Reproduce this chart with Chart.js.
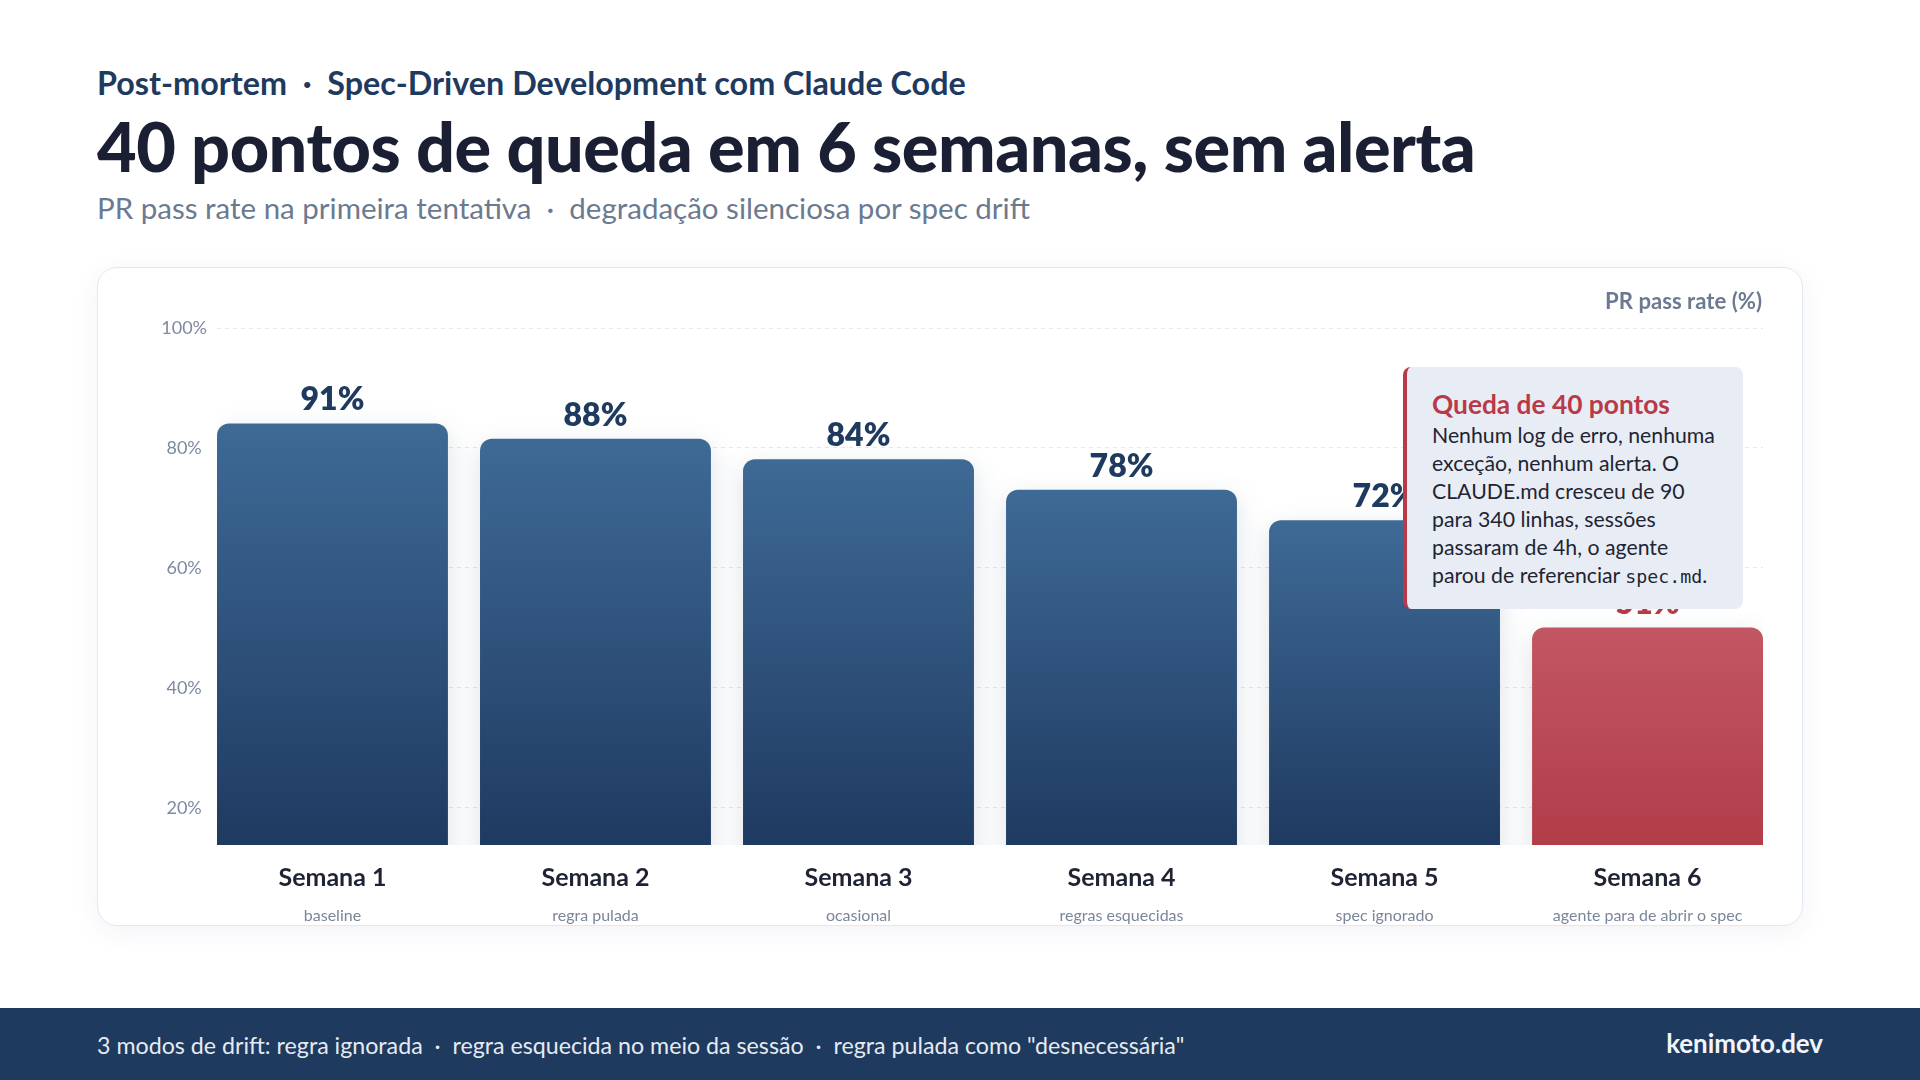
<!DOCTYPE html>
<html lang="pt-BR">
<head>
<meta charset="utf-8">
<title>Post-mortem · Spec-Driven Development com Claude Code</title>
<script src="https://cdn.jsdelivr.net/npm/chart.js@4.4.1/dist/chart.umd.min.js"></script>
<style>
  html, body { margin: 0; padding: 0; }
  body { width: 1920px; height: 1080px; position: relative; overflow: hidden; background: #ffffff; font-family: Lato, "Noto Sans", sans-serif; }
  .t { position: absolute; white-space: nowrap; line-height: 1; }
  #kicker { color: #1e3a5f; font-weight: 700; }
  #title { color: #1b1f33; font-weight: 900; letter-spacing: -0.5px; }
  #sub { color: #6b7a90; font-weight: 400; }
  #card { position: absolute; left: 97px; top: 267px; width: 1704px; height: 657px; border: 1px solid #e3e7ee; border-radius: 20px; background: #fff; box-shadow: 0 6px 28px rgba(30,58,95,0.06); }
  #chartWrap { position: absolute; left: 97px; top: 267px; width: 1706px; height: 659px; z-index: 2; }
  #axisTitle { color: #6b7a90; font-weight: 700; z-index: 3; }
  #note { position: absolute; left: 1403px; top: 367px; width: 336px; height: 242px; background: #e8edf5; border-left: 4px solid #b83a48; border-radius: 8px; z-index: 4; }
  #noteTitle { color: #b83a48; font-weight: 700; z-index: 5; }
  #noteBody { color: #1f2433; font-weight: 400; z-index: 5; line-height: 27.9px; }
  #noteBody code { font-family: "DejaVu Sans Mono", monospace; font-size: 0.86em; }
  #footer { position: absolute; left: 0; top: 1008px; width: 1920px; height: 72px; background: #1e3a5f; }
  #footL { color: #e6eaf0; font-weight: 400; z-index: 6; }
  #footR { color: #f3f5f9; font-weight: 700; z-index: 6; }
</style>
</head>
<body>
<div id="kicker" class="t" data-fs="32">Post-mortem&nbsp; ·&nbsp; Spec-Driven Development com Claude Code</div>
<div id="title" class="t" data-fs="70">40 pontos de queda em 6 semanas, sem alerta</div>
<div id="sub" class="t" data-fs="30">PR pass rate na primeira tentativa&nbsp; ·&nbsp; degradação silenciosa por spec drift</div>

<div id="card"></div>
<div id="chartWrap"><canvas id="chart" width="1706" height="659"></canvas></div>
<div id="axisTitle" class="t" data-fs="20">PR pass rate (%)</div>

<div id="note"></div>
<div id="noteTitle" class="t" data-fs="27">Queda de 40 pontos</div>
<div id="noteBody" class="t" data-fs="20">Nenhum log de erro, nenhuma<br>exceção, nenhum alerta. O<br>CLAUDE.md cresceu de 90<br>para 340 linhas, sessões<br>passaram de 4h, o agente<br>parou de referenciar <code>spec.md</code>.</div>

<div id="footer"></div>
<div id="footL" class="t" data-fs="25">3 modos de drift: regra ignorada&nbsp; ·&nbsp; regra esquecida no meio da sessão&nbsp; ·&nbsp; regra pulada como "desnecessária"</div>
<div id="footR" class="t" data-fs="26">kenimoto.dev</div>

<script>
// ---- data ----
const weeks = ['Semana 1', 'Semana 2', 'Semana 3', 'Semana 4', 'Semana 5', 'Semana 6'];
const weekNotes = ['baseline', 'regra pulada', 'ocasional', 'regras esquecidas', 'spec ignorado', 'agente para de abrir o spec'];
const passRate = [91, 88, 84, 78, 72, 51];
const yTicks = [20, 40, 60, 80, 100];

// ---- layout helpers ----
function baselineOf(el) {
  const m = document.createElement('span');
  m.style.cssText = 'display:inline-block;width:0;height:0;vertical-align:baseline;';
  el.insertBefore(m, el.firstChild);
  const b = m.getBoundingClientRect().top - el.getBoundingClientRect().top;
  el.removeChild(m);
  return b;
}
function place(id, o) {
  const el = document.getElementById(id);
  let fs = parseFloat(el.dataset.fs);
  el.style.fontSize = fs + 'px';
  if (o.width) {
    const w = el.getBoundingClientRect().width;
    fs = fs * o.width / w;
    el.style.fontSize = fs + 'px';
  }
  el.style.top = '0px';
  const b = baselineOf(el);
  el.style.top = (o.baseline - b) + 'px';
  const w2 = el.getBoundingClientRect().width;
  el.style.left = (o.left != null ? o.left : o.right - w2) + 'px';
}

function layoutText() {
  place('kicker', { left: 97, baseline: 95, width: 869 });
  place('title', { left: 97, baseline: 172, width: 1379 });
  place('sub', { left: 97, baseline: 219, width: 933 });
  place('axisTitle', { right: 1762, baseline: 309, width: 157 });
  place('noteTitle', { left: 1432, baseline: 414, width: 238 });
  place('noteBody', { left: 1432, baseline: 443, width: 283 });
  place('footL', { left: 97, baseline: 1054, width: 1088 });
  place('footR', { right: 1823, baseline: 1053, width: 157 });
}

// ---- chart ----
const BAR_FRACTION = 0.878;           // bar width / bar pitch
const BAR_AXIS = { min: 8.37, max: 109.7 };   // scale used by the bars
const GRID_AXIS = { min: 13.83, max: 100 };   // visible percentage axis

const barShadow = {
  id: 'barShadow',
  beforeDatasetsDraw(chart) {
    const ctx = chart.ctx;
    ctx.save();
    ctx.shadowColor = 'rgba(30,58,95,0.16)';
    ctx.shadowBlur = 26;
    ctx.shadowOffsetY = 8;
  },
  afterDatasetsDraw(chart) { chart.ctx.restore(); }
};

const valueLabels = {
  id: 'valueLabels',
  afterDatasetsDraw(chart) {
    const ctx = chart.ctx;
    const meta = chart.getDatasetMeta(0);
    ctx.save();
    ctx.font = '800 32px Lato';
    ctx.textAlign = 'center';
    ctx.textBaseline = 'alphabetic';
    meta.data.forEach((el, i) => {
      ctx.fillStyle = i === passRate.length - 1 ? '#b83a48' : '#1e3a5f';
      ctx.fillText(passRate[i] + '%', el.x, el.y - 13);
    });
    ctx.restore();
  }
};

function barFill(c) {
  const chart = c.chart;
  const area = chart.chartArea;
  const last = c.dataIndex === passRate.length - 1;
  if (!area) return last ? '#bb4b57' : '#2e5180';
  const top = chart.scales.yb.getPixelForValue(passRate[c.dataIndex]);
  const g = chart.ctx.createLinearGradient(0, top, 0, area.bottom);
  if (last) { g.addColorStop(0, '#c25662'); g.addColorStop(1, '#b13d49'); }
  else { g.addColorStop(0, '#3e6a96'); g.addColorStop(1, '#1f3a61'); }
  return g;
}

function xTicks(scale) { scale.ticks = weeks.map((_, i) => ({ value: i })); }

function build() {
  layoutText();
  new Chart(document.getElementById('chart'), {
    type: 'bar',
    data: {
      datasets: [{
        data: passRate.map((v, i) => ({ x: i, y: v })),
        xAxisID: 'x',
        yAxisID: 'yb',
        backgroundColor: barFill,
        borderWidth: 0,
        borderRadius: 12,
        borderSkipped: 'start',
        barPercentage: BAR_FRACTION,
        categoryPercentage: 1
      }]
    },
    options: {
      responsive: false,
      animation: false,
      events: [],
      layout: { padding: { left: 0, right: 40, top: 61, bottom: 0 } },
      plugins: { legend: { display: false }, tooltip: { enabled: false } },
      scales: {
        x: {
          type: 'linear',
          position: 'bottom',
          offset: false,
          weight: 0,
          min: -BAR_FRACTION / 2,
          max: weeks.length - 1 + BAR_FRACTION / 2,
          afterBuildTicks: xTicks,
          afterFit(s) { s.height = 50; },
          grid: { display: false, offset: false },
          border: { display: false },
          ticks: {
            autoSkip: false, maxRotation: 0, padding: 10,
            color: '#1f2333',
            font: { family: 'Lato', size: 25, weight: '700' },
            callback: (v) => weeks[v]
          }
        },
        x2: {
          type: 'linear',
          position: 'bottom',
          offset: false,
          weight: 1,
          min: -BAR_FRACTION / 2,
          max: weeks.length - 1 + BAR_FRACTION / 2,
          afterBuildTicks: xTicks,
          afterFit(s) { s.height = 31; },
          grid: { display: false, offset: false },
          border: { display: false },
          ticks: {
            autoSkip: false, maxRotation: 0, padding: 3,
            color: '#7a8699',
            font: { family: 'Lato', size: 16, weight: '400' },
            callback: (v) => weekNotes[v]
          }
        },
        y: {
          type: 'linear',
          position: 'left',
          min: GRID_AXIS.min,
          max: GRID_AXIS.max,
          afterBuildTicks(s) { s.ticks = yTicks.map(v => ({ value: v })); },
          afterFit(s) { s.width = 120; },
          grid: { color: '#e4e8ef', lineWidth: 1, drawTicks: false },
          border: { display: false, dash: [4, 4] },
          ticks: {
            padding: 10,
            crossAlign: 'center',
            color: '#7d8aa0',
            font: { family: 'Lato', size: 18, weight: '400' },
            callback: (v) => v + '%'
          }
        },
        yb: {
          type: 'linear',
          display: false,
          min: BAR_AXIS.min,
          max: BAR_AXIS.max
        }
      }
    },
    plugins: [barShadow, valueLabels]
  });
}

const fontLoads = ['400 20px Lato', '700 20px Lato', '800 20px Lato', '900 20px Lato', '400 20px "DejaVu Sans Mono"']
  .map(f => document.fonts.load(f).catch(() => null));
Promise.all(fontLoads).then(build, build);
</script>
</body>
</html>
